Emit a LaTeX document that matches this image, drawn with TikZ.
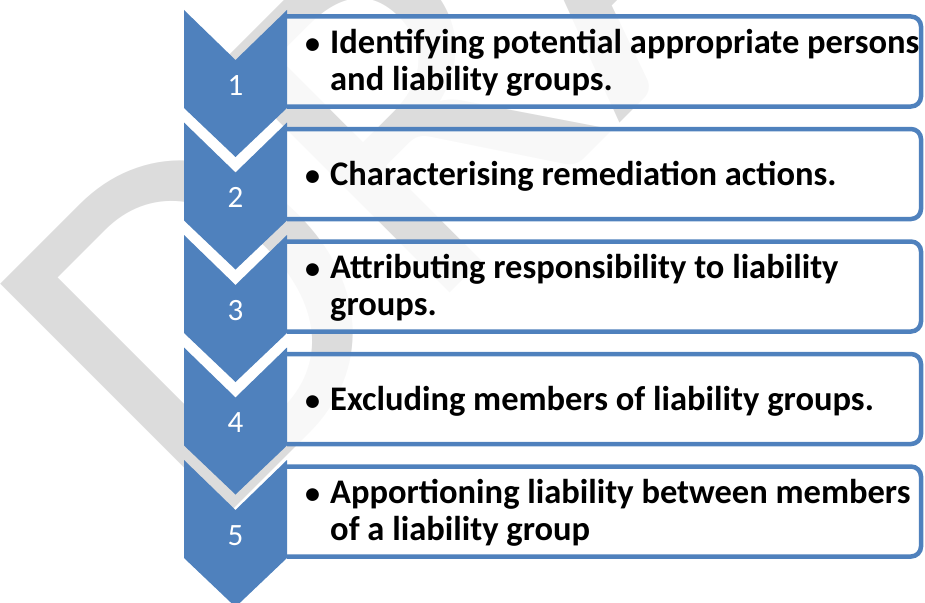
\documentclass[tikz,border=0pt]{standalone}
\usepackage{fontspec}
\setmainfont{Carlito}
\definecolor{chev}{RGB}{79,129,189}
\definecolor{wmark}{RGB}{220,220,220}
\begin{document}
\begin{tikzpicture}[x=1pt,y=-1pt,
  chevron/.style={fill=chev, draw=none},
  listbox/.style={draw=chev, line width=4.5pt, fill=white, fill opacity=0.8, rounded corners=10pt},
  stepnum/.style={text=white, font=\fontsize{31}{36}\selectfont, inner sep=0pt, anchor=base},
  itemtext/.style={font=\fontsize{34.5}{37}\selectfont\bfseries, inner sep=0pt, anchor=base west},
  watermark/.style={text=wmark, font=\fontsize{505}{505}\selectfont, inner sep=0pt, anchor=base west, rotate=45},
]
\useasboundingbox (0,0) rectangle (925,602);

% background watermark
\begin{scope}
  \clip (0,0) rectangle (925,602);
  \node[watermark] (wm) at (205,538) {DRAFT};
\end{scope}

% text boxes, open on the left where the chevrons cover them
\foreach \t in {16.5,129,241.5,354,466.5}{
  \draw[listbox] (287,\t) -- (921,\t) -- (921,\t+90) -- (287,\t+90);
}

% chevrons
\foreach \c in {10,122.5,235,347.5,460}{
  \fill[chevron] (184,\c) -- (235.5,\c+50) -- (287,\c) -- (287,\c+98) -- (235.5,\c+147) -- (184,\c+98) -- cycle;
}

% step numbers
\node[stepnum] (n1) at (235.5,95) {1};
\node[stepnum] (n2) at (235.5,207.5) {2};
\node[stepnum] (n3) at (235.5,320) {3};
\node[stepnum] (n4) at (235.5,432.5) {4};
\node[stepnum] (n5) at (235.5,545) {5};

% list items
\newcommand{\itembullet}{\makebox[25pt][l]{\fontsize{30}{30}\selectfont•}}
\node[itemtext] (t1a) at (305,53.5) {\itembullet Identifying potential appropriate persons};
\node[itemtext] (t1b) at (330,90) {and liability groups.};
\node[itemtext] (t2a) at (305,185) {\itembullet Characterising remediation actions.};
\node[itemtext] (t3a) at (305,278.5) {\itembullet Attributing responsibility to liability};
\node[itemtext] (t3b) at (330,315) {groups.};
\node[itemtext] (t4a) at (305,410) {\itembullet Excluding members of liability groups.};
\node[itemtext] (t5a) at (305,503.5) {\itembullet Apportioning liability between members};
\node[itemtext] (t5b) at (330,540) {of a liability group};
\end{tikzpicture}
\end{document}
